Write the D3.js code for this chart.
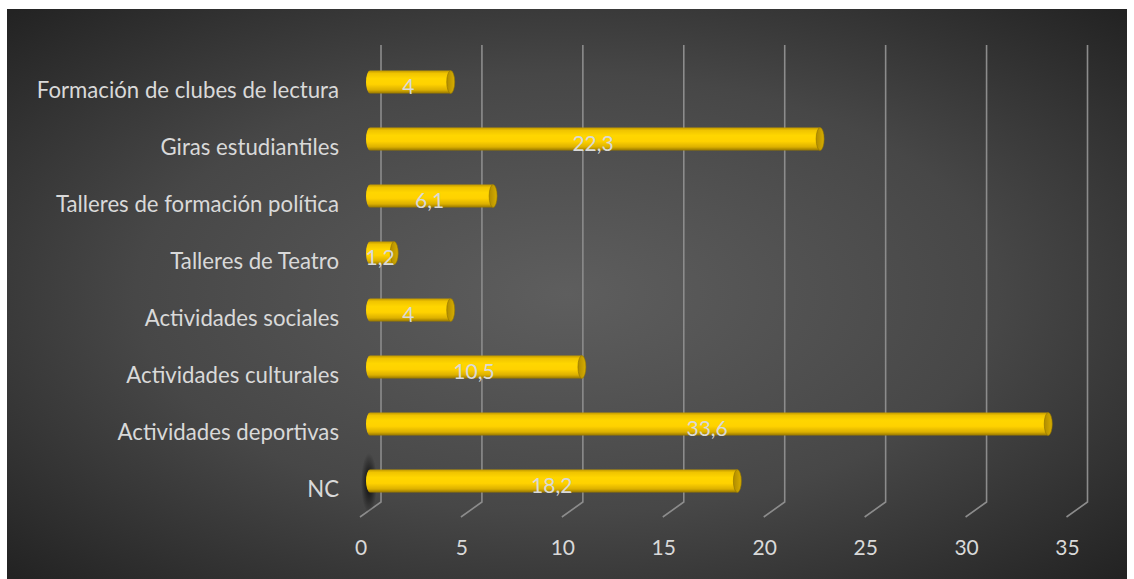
<!DOCTYPE html>
<html><head><meta charset="utf-8">
<script src="https://cdn.jsdelivr.net/npm/d3@7"></script>
<style>body{margin:0;background:#fff}svg{display:block}</style>
</head><body><svg id="c" width="1134" height="579"></svg>
<script>
const categories = ["Formación de clubes de lectura","Giras estudiantiles","Talleres de formación política","Talleres de Teatro","Actividades sociales","Actividades culturales","Actividades deportivas","NC"];
const values = [4, 22.3, 6.1, 1.2, 4, 10.5, 33.6, 18.2];
const valueLabels = ["4","22,3","6,1","1,2","4","10,5","33,6","18,2"];
const ticks = [0,5,10,15,20,25,30,35];

const svg = d3.select("#c");
const defs = svg.append("defs");
const bg = defs.append("radialGradient").attr("id","bg").attr("cx","0.5").attr("cy","0.5").attr("r","0.7");
bg.append("stop").attr("offset","0").attr("stop-color","#5e5e5e");
bg.append("stop").attr("offset","0.55").attr("stop-color","#474747");
bg.append("stop").attr("offset","1").attr("stop-color","#232323");
const bar = defs.append("linearGradient").attr("id","bar").attr("x1",0).attr("y1",0).attr("x2",0).attr("y2",1);
[[0,"#c09800"],[0.12,"#f0c400"],[0.35,"#ffd600"],[0.6,"#ffd200"],[0.85,"#dcb000"],[1,"#967600"]].forEach(s=>bar.append("stop").attr("offset",s[0]).attr("stop-color",s[1]));
const cap = defs.append("linearGradient").attr("id","cap").attr("x1",0).attr("y1",0).attr("x2",1).attr("y2",0);
cap.append("stop").attr("offset",0).attr("stop-color","#b08c00");
cap.append("stop").attr("offset",1).attr("stop-color","#d8ae00");
const sh = defs.append("radialGradient").attr("id","sh");
sh.append("stop").attr("offset",0).attr("stop-color","#000").attr("stop-opacity",0.9);
sh.append("stop").attr("offset",1).attr("stop-color","#000").attr("stop-opacity",0);

svg.append("rect").attr("x",7).attr("y",9).attr("width",1120).attr("height",570).attr("fill","url(#bg)");

const xBack = d3.scaleLinear().domain([0,35]).range([381,1087.5]);
const depthX = 21, depthY = 15;
const barOff = 11;
const gridTop = 45, gridBottom = 502;
const y = d3.scaleBand().domain(categories).range([53.5,509.5]).paddingInner(0.6).paddingOuter(0.3);
const font = "Lato, 'Open Sans', sans-serif";

const g = svg.append("g");
ticks.forEach(t=>{
  const xb = xBack(t);
  g.append("path").attr("d",`M${xb},${gridTop}L${xb},${gridBottom}L${xb-depthX},${gridBottom+depthY}`)
   .attr("fill","none").attr("stroke","#8c8c8c").attr("stroke-width",1.6);
});

svg.append("ellipse").attr("cx",xBack(0)-12).attr("cy",y("NC")+y.bandwidth()/2+2).attr("rx",8).attr("ry",30).attr("fill","url(#sh)");

const bh = y.bandwidth();
const rx = 4;
const bars = svg.append("g").selectAll("g").data(categories).join("g");
bars.each(function(c,i){
  const gg = d3.select(this);
  const x0 = xBack(0)-barOff, x1 = xBack(values[i])-barOff;
  const yt = y(c), yb = yt+bh, yc = yt+bh/2;
  gg.append("path").attr("d",`M${x0},${yt}L${x1},${yt}L${x1},${yb}L${x0},${yb}A${rx},${bh/2} 0 0 1 ${x0},${yt}Z`)
    .attr("fill","url(#bar)");
  gg.append("ellipse").attr("cx",x1).attr("cy",yc).attr("rx",rx).attr("ry",bh/2)
    .attr("fill","url(#cap)").attr("stroke","#8f7200").attr("stroke-width",0.6);
  gg.append("text").attr("x",(x0+x1)/2-2).attr("y",yc+5).attr("dy","0.35em")
    .attr("text-anchor","middle").attr("fill","#d9d9d9")
    .style("font-family",font).style("font-size","21px")
    .text(valueLabels[i]);
});

svg.append("g").selectAll("text").data(categories).join("text")
  .attr("x",339).attr("y",d=>y(d)+bh/2+8).attr("dy","0.35em").attr("text-anchor","end")
  .attr("fill","#d9d9d9").style("font-family",font).style("font-size","22.2px")
  .text(d=>d);

svg.append("g").selectAll("text").data(ticks).join("text")
  .attr("x",d=>xBack(d)-depthX+1).attr("y",548).attr("dy","0.35em").attr("text-anchor","middle")
  .attr("fill","#d9d9d9").style("font-family",font).style("font-size","21px")
  .text(d=>d);
</script></body></html>
